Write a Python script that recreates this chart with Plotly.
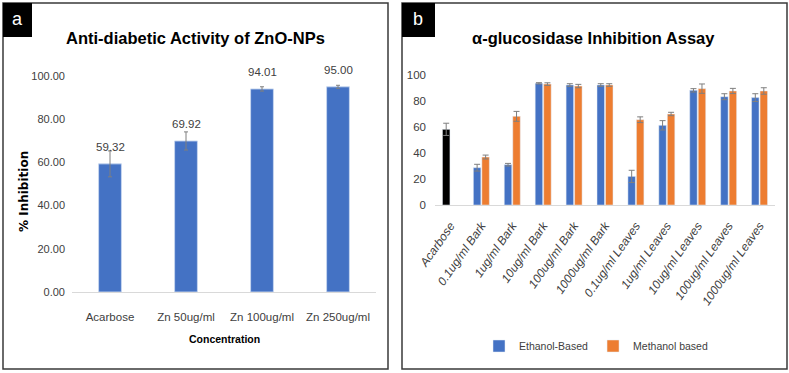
import plotly.graph_objects as go

W, H = 789, 373

# Panel a data
a_categories = ["Acarbose", "Zn 50ug/ml", "Zn 100ug/ml", "Zn 250ug/ml"]
a_values = [59.32, 69.92, 94.01, 95.00]
a_errors = [6.0, 4.2, 1.0, 0.7]
a_ticks = [0, 20, 40, 60, 80, 100]

# Panel b data
b_categories = ["Acarbose", "0.1ug/ml Bark", "1ug/ml Bark", "10ug/ml Bark", "100ug/ml Bark",
                "1000ug/ml Bark", "0.1ug/ml Leaves", "1ug/ml Leaves", "10ug/ml Leaves",
                "100ug/ml Leaves", "1000ug/ml Leaves"]
acarbose_value = [58.2]
acarbose_error = [4.7]
ethanol_values = [None, 28.7, 31.0, 93.6, 92.3, 92.3, 22.0, 61.3, 88.2, 83.3, 82.6]
ethanol_errors = [0, 2.6, 1.0, 0.5, 1.0, 1.0, 4.7, 3.6, 1.3, 2.3, 3.0]
methanol_values = [None, 36.9, 68.2, 93.0, 91.5, 92.3, 65.6, 70.0, 89.5, 87.7, 87.7]
methanol_errors = [0, 1.5, 3.8, 1.0, 1.3, 1.0, 2.2, 1.3, 3.6, 2.0, 2.5]

BLUE = "#4472C4"
ORANGE = "#ED7D31"
FONT = "Liberation Sans, Arial, sans-serif"
TXT = "#404040"
ERR = "#7f7f7f"

def px(x):
    return x / W

def py(y):
    return 1 - y / H

fig = go.Figure()

fig.add_trace(go.Bar(
    x=a_categories, y=a_values, xaxis="x", yaxis="y", width=0.3,
    marker=dict(color=BLUE, line=dict(color="rgba(200,215,240,0.9)", width=1)),
    error_y=dict(type="data", array=a_errors, color=ERR, thickness=1, width=2),
    showlegend=False,
))

fig.add_trace(go.Bar(
    x=b_categories[:1], y=acarbose_value, xaxis="x2", yaxis="y2",
    marker=dict(color="black"), offsetgroup="eth",
    error_y=dict(type="data", array=acarbose_error, color=ERR, thickness=1, width=3),
    showlegend=False,
))
fig.add_trace(go.Bar(
    x=b_categories, y=ethanol_values, xaxis="x2", yaxis="y2", name="Ethanol-Based",
    marker=dict(color=BLUE), offsetgroup="eth",
    error_y=dict(type="data", array=ethanol_errors, color=ERR, thickness=1, width=3),
))
fig.add_trace(go.Bar(
    x=b_categories, y=methanol_values, xaxis="x2", yaxis="y2", name="Methanol based",
    marker=dict(color=ORANGE), offsetgroup="meth",
    error_y=dict(type="data", array=methanol_errors, color=ERR, thickness=1, width=3),
))

shapes = [
    dict(type="rect", xref="paper", yref="paper", x0=px(3), x1=px(388), y0=py(369), y1=py(3),
         line=dict(color="#3a3a3a", width=1.5)),
    dict(type="rect", xref="paper", yref="paper", x0=px(402), x1=px(787), y0=py(369), y1=py(3),
         line=dict(color="#3a3a3a", width=1.5)),
    dict(type="rect", xref="paper", yref="paper", x0=px(3), x1=px(32), y0=py(37), y1=py(3),
         fillcolor="black", line=dict(width=0)),
    dict(type="rect", xref="paper", yref="paper", x0=px(402), x1=px(435), y0=py(37), y1=py(3),
         fillcolor="black", line=dict(width=0)),
]

def ann(text, x, y, size, color="black", family=FONT, angle=0):
    return dict(text=text, x=px(x), y=py(y), xref="paper", yref="paper", showarrow=False,
                xanchor="center", yanchor="middle", textangle=angle,
                font=dict(family=family, size=size, color=color))

annotations = [
    ann("a", 17, 19, 18, "white"),
    ann("b", 418, 19, 18, "white"),
    ann("<b>Anti-diabetic Activity of ZnO-NPs</b>", 195, 38, 16.5),
    ann("<b>α-glucosidase Inhibition Assay</b>", 593, 38, 16.5),
    ann("<b>% Inhibition</b>", 24, 192, 12, family="DejaVu Sans", angle=-90),
    ann("<b>Concentration</b>", 224, 339, 10.5),
]
# data labels above bars in panel a
for c, v in zip(a_categories, a_values):
    annotations.append(dict(text=f"{v:.2f}", x=c, y=v, xref="x", yref="y", showarrow=False,
                            xanchor="center", yanchor="middle", yshift=17,
                            font=dict(family=FONT, size=11.5, color=TXT)))

fig.update_layout(
    width=W, height=H,
    margin=dict(l=0, r=0, t=0, b=0, autoexpand=False),
    paper_bgcolor="white", plot_bgcolor="white",
    barmode="group",
    shapes=shapes, annotations=annotations,
    font=dict(family=FONT, color=TXT),
    xaxis=dict(domain=[px(72), px(376)], anchor="y", showgrid=False, showline=True,
               linecolor="#d9d9d9", linewidth=1, ticks="", ticklabelstandoff=14, tickangle=0,
               automargin=False, tickfont=dict(family=FONT, size=11.5, color=TXT)),
    yaxis=dict(domain=[py(292), py(76)], anchor="x", range=[0, 100], tickvals=a_ticks,
               tickformat=".2f", showgrid=False, zeroline=False, showline=False,
               automargin=False, ticklabelstandoff=6, tickfont=dict(family=FONT, size=11, color=TXT)),
    xaxis2=dict(domain=[px(435), px(775)], anchor="y2", showgrid=False, showline=True,
                linecolor="#d9d9d9", linewidth=1, ticks="", tickangle=-55, ticklabelstandoff=8,
                automargin=False, tickfont=dict(family=FONT, size=12, color=TXT, style="italic")),
    yaxis2=dict(domain=[py(205), py(75)], anchor="x2", range=[0, 100], dtick=20,
                showgrid=False, zeroline=False, showline=False, ticklabelstandoff=8,
                automargin=False, tickfont=dict(family=FONT, size=11.5, color=TXT)),
    bargap=0.45, bargroupgap=0.12,
    legend=dict(orientation="h", x=px(596), y=py(346), xanchor="center", yanchor="middle",
                font=dict(family=FONT, size=10.5, color=TXT), itemwidth=30,
                bgcolor="rgba(0,0,0,0)"),
)

fig.write_html("out.html", config={"displayModeBar": False},
               post_script="document.body.style.margin='0';")
